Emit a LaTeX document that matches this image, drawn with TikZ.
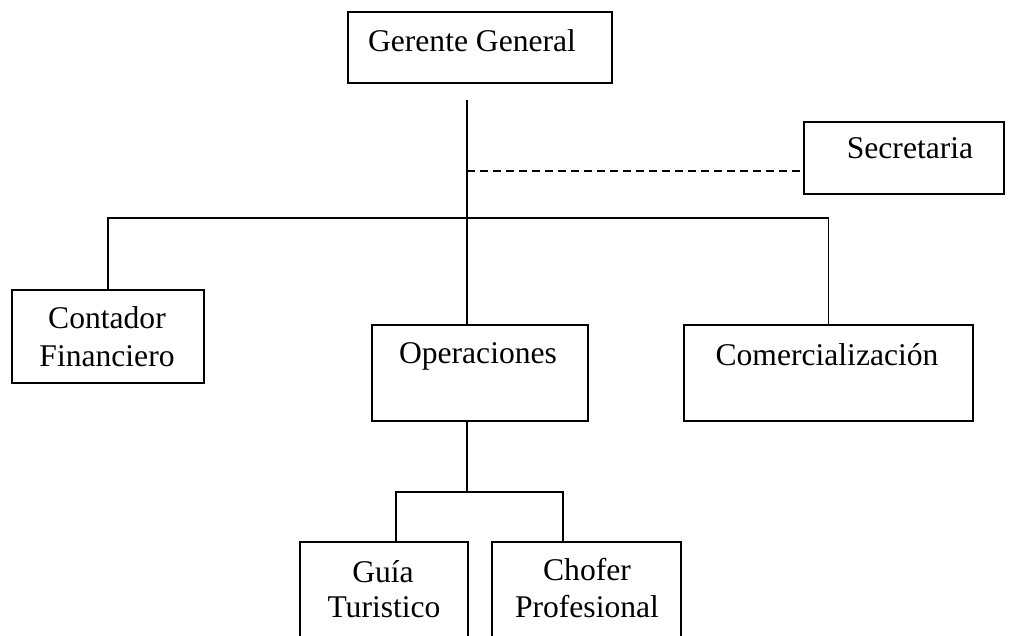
\documentclass[tikz,border=0pt]{standalone}
\usepackage{fontspec}
\setmainfont{Liberation Serif}
\begin{document}
\begin{tikzpicture}[x=1pt,y=-1pt,
  box/.style={draw, line width=1.6pt, rectangle, inner sep=0pt, anchor=north west},
  lbl/.style={anchor=base, inner sep=0pt, font=\fontsize{31.6}{36}\selectfont},
  link/.style={line width=1.5pt},
  dashlink/.style={line width=1.5pt, dash pattern=on 8pt off 5pt}]
\clip (0,0) rectangle (1011,635);
\fill[white] (0,0) rectangle (1011,635);

% boxes
\node[box, minimum width=264pt, minimum height=71pt]  (gg)   at (347,11)  {};
\node[box, minimum width=200pt, minimum height=72pt]  (sec)  at (803,121) {};
\node[box, minimum width=192pt, minimum height=93pt]  (cont) at (11,289)  {};
\node[box, minimum width=216pt, minimum height=96pt]  (op)   at (371,324) {};
\node[box, minimum width=289pt, minimum height=96pt]  (com)  at (683,324) {};
\node[box, minimum width=168pt, minimum height=120pt] (guia) at (299,541) {};
\node[box, minimum width=189pt, minimum height=120pt] (chof) at (491,541) {};

% labels
\node[lbl] (ggt)   at (472,51)  {Gerente General};
\node[lbl] (sect)  at (910,158) {Secretaria};
\node[lbl] (contt) at (107,328) {Contador};
\node[lbl] (contb) at (107,366) {Financiero};
\node[lbl] (opt)   at (478,363) {Operaciones};
\node[lbl] (comt)  at (827,365) {Comercialización};
\node[lbl] (guiat) at (383,582) {Guía};
\node[lbl] (guiab) at (384,617) {Turistico};
\node[lbl] (choft) at (587,580) {Chofer};
\node[lbl] (chofb) at (587,617) {Profesional};

% connector points
\coordinate (trunk) at (467,100);
\coordinate (dj)    at (467,171);
\coordinate (bar)   at (467,218);
\coordinate (split) at (467,492);
\coordinate (gj)    at (396,492);
\coordinate (cj)    at (563,492);

% connectors
\draw[link] (trunk) -- (trunk |- op.north);
\draw[dashlink] (dj) -- (dj -| sec.west);
\draw[link] (cont.north) -- (cont.north |- bar) -- (com.north |- bar) -- (com.north);
\draw[link] (split |- op.south) -- (split);
\draw[link] (gj |- guia.north) -- (gj) -- (cj) -- (cj |- chof.north);
\end{tikzpicture}
\end{document}
